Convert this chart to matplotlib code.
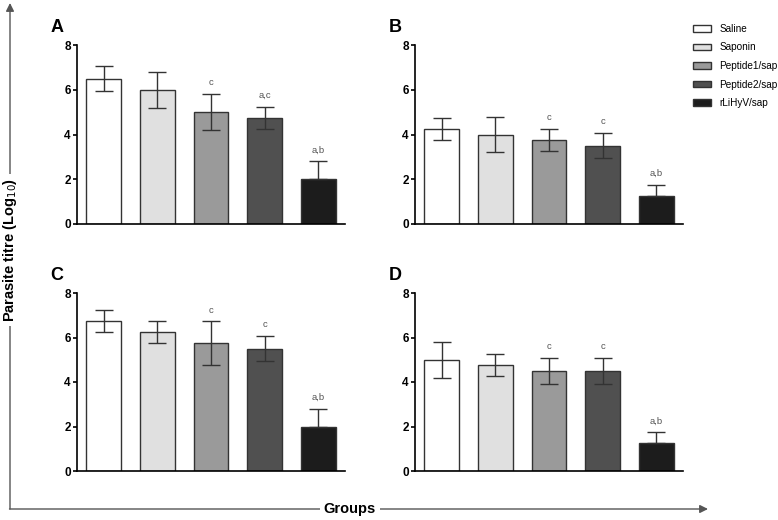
import numpy as np
import matplotlib
matplotlib.use("Agg")
import matplotlib.pyplot as plt
from matplotlib.patches import Patch

plt.rcParams['font.family'] = ['Liberation Sans', 'DejaVu Sans']

# groups and colours
groups = ["Saline", "Saponin", "Peptide1/sap", "Peptide2/sap", "rLiHyV/sap"]
bar_colors = ["#ffffff", "#e0e0e0", "#9a9a9a", "#505050", "#1c1c1c"]

# panel values (mean, sd)
a_mean = [6.5, 6.0, 5.0, 4.75, 2.0]
a_err = [0.57, 0.8, 0.82, 0.5, 0.8]
a_labels = ["", "", "c", "a,c", "a,b"]

b_mean = [4.25, 4.0, 3.75, 3.5, 1.25]
b_err = [0.5, 0.8, 0.5, 0.57, 0.5]
b_labels = ["", "", "c", "c", "a,b"]

c_mean = [6.75, 6.25, 5.75, 5.5, 2.0]
c_err = [0.5, 0.5, 0.97, 0.57, 0.8]
c_labels = ["", "", "c", "c", "a,b"]

d_mean = [5.0, 4.75, 4.5, 4.5, 1.25]
d_err = [0.82, 0.5, 0.58, 0.58, 0.5]
d_labels = ["", "", "c", "c", "a,b"]

W, H = 778, 520
fig = plt.figure(figsize=(W / 100, H / 100), dpi=100)


def px_axes(x0, y0, x1, y1):
    # pixel box (top-left origin) -> figure fraction
    return fig.add_axes([x0 / W, 1 - y1 / H, (x1 - x0) / W, (y1 - y0) / H])


def draw_panel(ax, means, errs, labels, letter):
    x = np.arange(len(means))
    lower = list(errs[:-1]) + [0]
    ax.bar(x, means, width=0.65, color=bar_colors, edgecolor="#333333",
           linewidth=1.0, zorder=2)
    ax.errorbar(x, means, yerr=[lower, errs], fmt="none", ecolor="#333333",
                elinewidth=1.0, capsize=6.5, capthick=1.0, zorder=3)
    for xi, m, e, lab in zip(x, means, errs, labels):
        if lab:
            ax.text(xi, m + e + 0.3, lab, ha="center", va="bottom",
                    fontsize=6.8, color="#555555")
    ax.set_xlim(-0.5, 4.5)
    ax.set_ylim(0, 8)
    ax.set_yticks([0, 2, 4, 6, 8])
    ax.set_xticks([])
    for s in ["top", "right"]:
        ax.spines[s].set_visible(False)
    ax.spines["left"].set_linewidth(1.2)
    ax.spines["bottom"].set_linewidth(1.2)
    ax.tick_params(axis="y", length=3, width=1.2, pad=1.5, labelsize=8.5)
    for t in ax.get_yticklabels():
        t.set_fontweight("bold")
    ax.text(-0.05, 1.05, letter, transform=ax.transAxes, fontsize=13,
            fontweight="bold", ha="right", va="bottom")


ax_a = px_axes(77, 45, 345, 224)
ax_b = px_axes(415, 45, 683, 224)
ax_c = px_axes(77, 293, 345, 471)
ax_d = px_axes(415, 293, 683, 471)

draw_panel(ax_a, a_mean, a_err, a_labels, "A")
draw_panel(ax_b, b_mean, b_err, b_labels, "B")
draw_panel(ax_c, c_mean, c_err, c_labels, "C")
draw_panel(ax_d, d_mean, d_err, d_labels, "D")

handles = [Patch(facecolor=c, edgecolor="#333333", linewidth=1.0) for c in bar_colors]
fig.legend(handles, groups, loc="upper left",
           bbox_to_anchor=(689 / W, 1 - 20 / H), frameon=False, fontsize=7.2,
           handlelength=1.75, handleheight=0.65, handletextpad=0.9,
           labelspacing=0.85, borderaxespad=0)

# outer axes arrows with labels
ov = fig.add_axes([0, 0, 1, 1], zorder=-1)
ov.set_xlim(0, W)
ov.set_ylim(H, 0)
ov.axis("off")
ov.annotate("", xy=(10, 3), xytext=(10, 509),
            arrowprops=dict(arrowstyle="-|>", color="#555555", lw=1.0,
                            mutation_scale=12, shrinkA=0, shrinkB=0))
ov.annotate("", xy=(708, 509), xytext=(9.5, 509),
            arrowprops=dict(arrowstyle="-|>", color="#555555", lw=1.0,
                            mutation_scale=12, shrinkA=0, shrinkB=0))
ov.text(10, 250, "Parasite titre (Log$_{10}$)", rotation=90, ha="center",
        va="center", fontsize=10.5, fontweight="bold",
        bbox=dict(facecolor="white", edgecolor="none", pad=3))
ov.text(350, 509, "Groups", ha="center", va="center", fontsize=10.5,
        fontweight="bold", bbox=dict(facecolor="white", edgecolor="none", pad=3))

fig.savefig("out.png", dpi=100)
